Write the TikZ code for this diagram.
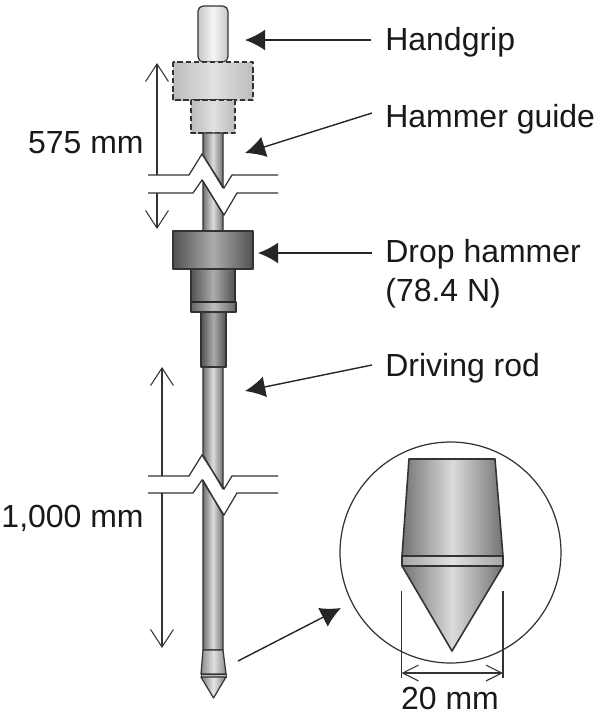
\documentclass[tikz,border=0pt]{standalone}
\usepackage{fontspec}
\setmainfont{Liberation Sans}
\usetikzlibrary{arrows.meta}
\definecolor{linecol}{HTML}{333333}
\tikzset{
  part/.style = {draw=linecol, line width=0.7pt, line join=round},
  grip/.style = {part, left color=black!22, right color=black!22, middle color=black!4},
  guide/.style = {part, dashed, dash pattern=on 3pt off 1.6pt, left color=black!26, right color=black!26, middle color=black!12},
  steel/.style = {part, left color=black!55, right color=black!55, middle color=black!14},
  heavy/.style = {part, left color=black!68, right color=black!68, middle color=black!33},
  cutline/.style = {draw=linecol, line width=0.7pt, line join=miter},
  pointer/.style = {draw=black!85, line width=0.8pt, -{Latex[length=11.5pt,width=12pt]}},
  dimline/.style = {draw=linecol, line width=0.6pt, -{Straight Barb[length=10pt,width=13pt,line width=0.6pt]}},
  wideline/.style = {draw=linecol, line width=0.6pt, {Straight Barb[length=9pt,width=9pt,line width=0.6pt]}-{Straight Barb[length=9pt,width=9pt,line width=0.6pt]}},
  txt/.style = {font=\fontsize{18.2pt}{20pt}\selectfont, text=black!90, inner sep=0pt},
  lbl/.style = {txt, anchor=base west},
  lenlbl/.style = {txt, anchor=base east}
}
\begin{document}
\begin{tikzpicture}[x=0.02cm,y=-0.02cm]
\useasboundingbox (0,0) rectangle (600,714);

% handle end
\draw[grip, rounded corners=3pt] (198,62) -- (198,6) -- (228,6) -- (228,62) -- cycle;
\draw[guide] (173,62) rectangle (253,100);
\draw[guide] (191,100) rectangle (235,133);

% rod pieces
\draw[steel] (203,133) -- (223,133) -- (223,188) -- (203,155) -- cycle;
\draw[steel] (203,181) -- (223,214) -- (223,231) -- (203,231) -- cycle;
\draw[steel] (203,367) -- (223,367) -- (223,489) -- (203,455) -- cycle;
\draw[steel] (203,480) -- (223,515) -- (223,650) -- (203,650) -- cycle;

% hammer
\draw[heavy] (173,231) rectangle (253,269);
\draw[heavy] (191,269) rectangle (235,302);
\draw[part, left color=black!60, right color=black!60, middle color=black!25] (191,302) rectangle (236,312);
\draw[line width=1.3pt, draw=black!85] (191,302) -- (236,302);
\draw[heavy] (201,312) rectangle (226,367);

% small tip
\draw[part, left color=black!45, right color=black!45, middle color=black!12] (203,650) -- (223,650) -- (226,674) -- (201,674) -- cycle;
\draw[part, line width=0.5pt, fill=black!25] (201,674) rectangle (226,677);
\draw[part, left color=black!50, right color=black!50, middle color=black!10] (201,677) -- (226,677) -- (213.5,698) -- cycle;

% rod breaks
\foreach \a in {175,476} {\draw[cutline] (148,\a) -- (189,\a) -- (202,\a-21) -- (224,\a+13) -- (232,\a) -- (278,\a);}
\foreach \a in {193,493} {\draw[cutline] (148,\a) -- (193,\a) -- (202,\a-13) -- (224,\a+22) -- (237,\a) -- (278,\a);}

% length arrows
\coordinate (topA) at (157,175);
\coordinate (topB) at (157,63);
\coordinate (botA) at (157,193);
\coordinate (botB) at (157,229);
\draw[dimline] (topA) -- (topB);
\draw[dimline] (botA) -- (botB);
\coordinate (topC) at (162,476);
\coordinate (topD) at (162,367);
\coordinate (botC) at (162,493);
\coordinate (botD) at (162,648);
\draw[dimline] (topC) -- (topD);
\draw[dimline] (botC) -- (botD);

% labels
\node[lenlbl] (short) at (144,153) {575 mm};
\node[lenlbl] (long) at (144,527) {1,000 mm};
\node[lbl] (handgrip) at (385,50) {Handgrip};
\node[lbl] (guidetxt) at (385,127) {Hammer guide};
\node[lbl] (hammertxt) at (385,262) {Drop hammer};
\node[lbl] (weight) at (385,301) {(78.4 N)};
\node[lbl] (rodtxt) at (385,376) {Driving rod};
\node[txt, anchor=base] (width) at (450,709) {20 mm};

% pointers
\coordinate (gripA) at (371,40);
\coordinate (gripB) at (245,40);
\coordinate (guideA) at (372,113);
\coordinate (guideB) at (245,153);
\coordinate (hamA) at (372,253);
\coordinate (hamB) at (258,253);
\coordinate (rodA) at (372,365);
\coordinate (rodB) at (245,391);
\coordinate (tipA) at (238,661);
\coordinate (tipB) at (341,608);
\draw[pointer] (gripA) -- (gripB);
\draw[pointer] (guideA) -- (guideB);
\draw[pointer] (hamA) -- (hamB);
\draw[pointer] (rodA) -- (rodB);
\draw[pointer] (tipA) -- (tipB);

% detail of tip
\draw[draw=linecol, line width=0.7pt] (450.5,552.5) circle (110.5);
\draw[steel, line width=0.9pt] (409,459) -- (495,459) -- (503,556) -- (402,556) -- cycle;
\draw[steel, line width=0.9pt, left color=black!35, right color=black!35, middle color=black!12] (402,556) rectangle (503,566);
\draw[steel, line width=0.9pt] (402,566) -- (503,566) -- (452,651) -- cycle;
\coordinate (widthA) at (401.5,591);
\coordinate (widthB) at (401.5,678);
\coordinate (widthC) at (503,591);
\coordinate (widthD) at (503,678);
\coordinate (widthL) at (401.5,673);
\coordinate (widthR) at (503,673);
\draw[draw=linecol, line width=0.6pt] (widthA) -- (widthB);
\draw[draw=linecol, line width=0.6pt] (widthC) -- (widthD);
\draw[wideline] (widthL) -- (widthR);

\end{tikzpicture}
\end{document}
